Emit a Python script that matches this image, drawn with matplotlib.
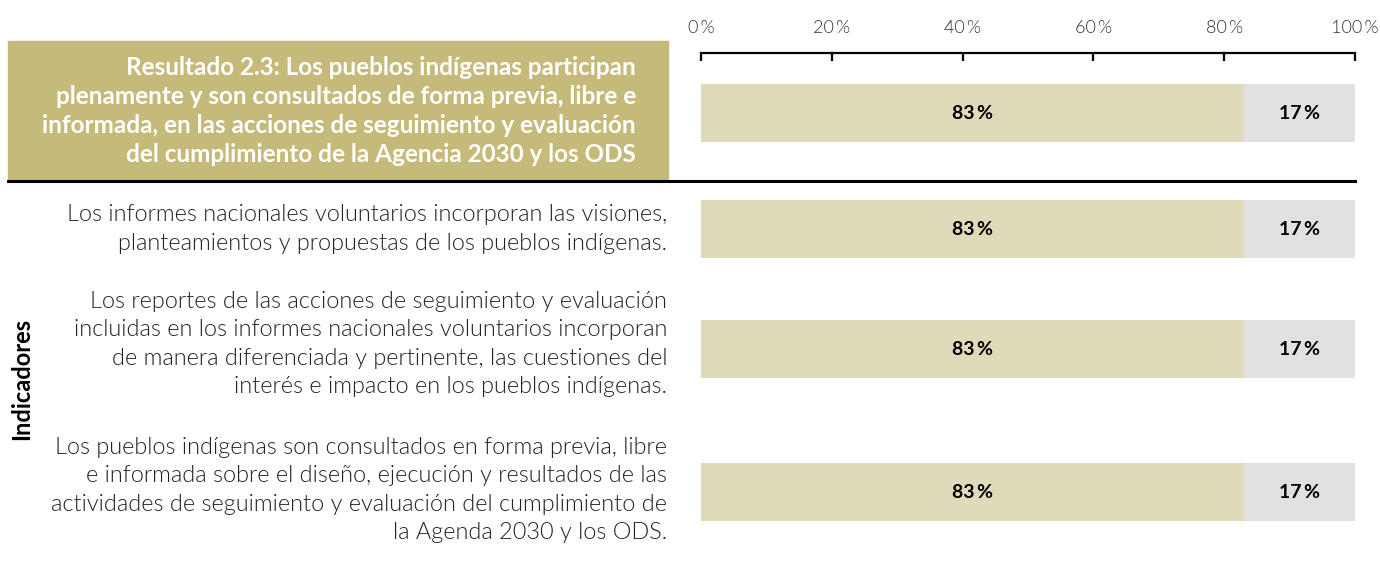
import matplotlib
matplotlib.use("Agg")
from matplotlib import pyplot as plt
from matplotlib.patches import Rectangle
from matplotlib.lines import Line2D

plt.rcParams['font.family'] = ['Lato', 'DejaVu Sans']

# data
resultado = ("Resultado 2.3: Los pueblos indígenas participan\n"
             "plenamente y son consultados de forma previa, libre e\n"
             "informada, en las acciones de seguimiento y evaluación\n"
             "del cumplimiento de la Agencia 2030 y los ODS")
indicadores = [
    "Los informes nacionales voluntarios incorporan las visiones,\n"
    "planteamientos y propuestas de los pueblos indígenas.",
    "Los reportes de las acciones de seguimiento y evaluación\n"
    "incluidas en los informes nacionales voluntarios incorporan\n"
    "de manera diferenciada y pertinente, las cuestiones del\n"
    "interés e impacto en los pueblos indígenas.",
    "Los pueblos indígenas son consultados en forma previa, libre\n"
    "e informada sobre el diseño, ejecución y resultados de las\n"
    "actividades de seguimiento y evaluación del cumplimiento de\n"
    "la Agenda 2030 y los ODS.",
]
si = [83, 83, 83, 83]
no = [17, 17, 17, 17]
ticks = [0, 20, 40, 60, 80, 100]

# layout (pixel rows, top-down)
W, H = 1380, 562
rows = [113, 229, 349, 492]
label_y = [229, 344, 490]
bar_h = 58
col_si = "#DFDABA"
col_no = "#E1E1E1"
col_head = "#C5BA7A"

fig = plt.figure(figsize=(W / 100, H / 100), dpi=100)
ax = fig.add_axes([701 / W, 0, 654 / W, (H - 53) / H])
ax.set_xlim(0, 100)
ax.set_ylim(H, 53)

ax.barh(rows, si, height=bar_h, color=col_si, edgecolor="none")
ax.barh(rows, no, left=si, height=bar_h, color=col_no, edgecolor="none")
for y, a, b in zip(rows, si, no):
    ax.text(a / 2, y, f"{a}\u2009%", ha="center", va="center",
            fontsize=14, fontweight="bold", color="black")
    ax.text(a + b / 2, y, f"{b}\u2009%", ha="center", va="center",
            fontsize=14, fontweight="bold", color="black")

for s in ["bottom", "left", "right"]:
    ax.spines[s].set_visible(False)
ax.spines["top"].set_linewidth(1.6)
ax.xaxis.tick_top()
ax.set_xticks(ticks)
ax.set_xticklabels([f"{t}\u2009%" for t in ticks], fontweight=300)
ax.tick_params(axis="x", direction="in", length=6, width=1.6, pad=12,
               labelsize=13, labelcolor="#333333")
ax.set_yticks([])
ax.set_facecolor("none")

# header box
fig.patches.append(Rectangle((8 / W, 1 - 180 / H), 660 / W, 139 / H,
                             transform=fig.transFigure, color=col_head, zorder=0))
fig.text(636 / W, 1 - 111 / H, resultado, ha="right", va="center",
         fontsize=17.5, fontweight="bold", color="white", linespacing=1.32)
fig.lines.append(Line2D([8 / W, 1355 / W], [1 - 180.5 / H] * 2,
                        transform=fig.transFigure, color="black", lw=2.2))

# indicator labels
for y, lab in zip(label_y, indicadores):
    fig.text(667 / W, 1 - y / H, lab, ha="right", va="center",
             fontsize=16.9, fontweight=300, color="#222222", linespacing=1.42)

fig.text(22 / W, 1 - 379 / H, "Indicadores", rotation=90, ha="center",
         va="center", fontsize=17, fontweight="bold", color="black")

fig.savefig("out.png", dpi=100)
